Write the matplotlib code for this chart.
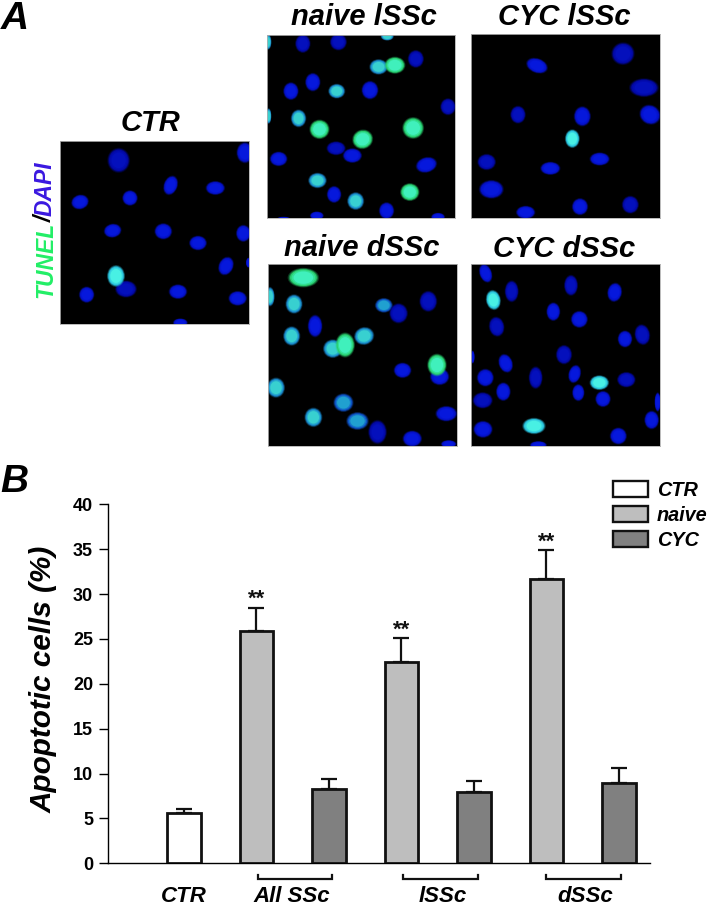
import matplotlib
matplotlib.use("Agg")
import matplotlib.pyplot as plt
from matplotlib.colors import to_rgb
from matplotlib.patches import Ellipse, Patch

plt.rcParams['font.family'] = ['Liberation Sans', 'DejaVu Sans']

# bar chart values
bar_labels = ['CTR', 'naive', 'CYC', 'naive', 'CYC', 'naive', 'CYC']
bar_values = [5.6, 25.9, 8.3, 22.4, 7.9, 31.7, 8.9]
bar_tops = [6.0, 28.5, 9.4, 25.1, 9.2, 34.9, 10.6]
bar_colors = ['white', '#bebebe', '#808080', '#bebebe', '#808080', '#bebebe', '#808080']
star_bars = [1, 3, 5]
y_ticks = [0, 5, 10, 15, 20, 25, 30, 35, 40]
group_names = ['CTR', 'All SSc', 'lSSc', 'dSSc']
legend_names = ['CTR', 'naive', 'CYC']
legend_colors = ['white', '#bebebe', '#808080']

# nuclei in the micrographs: x, y, width, height, angle, kind
# b blue, d dark blue, s speckled cyan, c bright cyan, g bright green
ctr_cells = [
    (356, 481, 58, 64, 0, 'd'), (735, 458, 44, 54, 0, 'b'), (512, 556, 36, 52, 20, 'b'),
    (646, 564, 50, 36, 0, 'b'), (240, 606, 46, 38, -15, 'b'), (390, 594, 40, 40, 0, 'b'),
    (338, 692, 46, 36, -10, 'b'), (490, 694, 46, 42, 0, 'b'), (730, 700, 38, 44, 0, 'b'),
    (594, 729, 46, 38, 0, 'b'), (678, 798, 38, 50, 25, 'b'), (745, 788, 12, 26, 0, 'b'),
    (378, 867, 56, 44, 0, 'd'), (260, 884, 40, 42, 0, 'b'), (534, 875, 48, 38, 0, 'b'),
    (713, 895, 48, 38, 0, 'b'), (541, 968, 38, 22, 0, 'b'), (348, 828, 46, 56, 0, 'c'),
]
naive_l_cells = [
    (908, 130, 40, 48, 0, 'd'), (1015, 125, 44, 44, 0, 'd'), (1248, 176, 42, 46, 0, 'd'),
    (938, 246, 40, 48, 0, 'b'), (872, 273, 40, 46, 0, 'b'), (1110, 270, 44, 48, 0, 'b'),
    (1345, 320, 40, 44, 0, 'd'), (1008, 445, 50, 36, 0, 'd'), (1057, 467, 50, 38, 0, 'b'),
    (835, 477, 46, 38, 0, 'b'), (1280, 495, 56, 40, -15, 'b'), (1002, 584, 38, 44, 0, 'b'),
    (1160, 633, 40, 44, 0, 'b'), (950, 648, 36, 22, 0, 'b'), (1315, 652, 36, 22, 0, 'b'),
    (850, 658, 36, 12, 0, 'b'), (1136, 200, 48, 40, 0, 's'), (1010, 273, 44, 38, 0, 's'),
    (895, 355, 40, 46, 0, 's'), (952, 542, 48, 40, 0, 's'), (1067, 604, 44, 46, 0, 's'),
    (1162, 108, 34, 22, 0, 's'), (803, 125, 18, 40, 0, 's'), (805, 348, 14, 40, 0, 's'),
    (1185, 195, 54, 44, 0, 'g'), (958, 388, 52, 50, 0, 'g'), (1088, 418, 54, 50, -20, 'g'),
    (1240, 384, 56, 56, 0, 'g'), (1230, 577, 50, 46, 0, 'g'),
]
cyc_l_cells = [
    (216, 198, 58, 38, 20, 'b'), (474, 162, 60, 58, -15, 'd'), (537, 264, 76, 48, 0, 'd'),
    (555, 345, 56, 50, 30, 'b'), (159, 345, 40, 46, 0, 'd'), (352, 350, 44, 52, 0, 'b'),
    (322, 417, 38, 48, 0, 'c'), (404, 478, 52, 34, 0, 'b'), (65, 487, 48, 42, 0, 'd'),
    (256, 506, 52, 34, 0, 'b'), (79, 569, 64, 48, 0, 'b'), (345, 621, 42, 44, 0, 'b'),
    (496, 615, 44, 46, 0, 'd'), (182, 638, 50, 34, 0, 'b'),
]
naive_d_cells = [
    (130, 143, 80, 50, 0, 'g'), (102, 222, 44, 50, 0, 's'), (30, 200, 24, 50, 0, 's'),
    (165, 288, 38, 58, 0, 'b'), (95, 318, 44, 50, 0, 's'), (218, 356, 50, 48, 0, 's'),
    (255, 345, 50, 64, 0, 'g'), (312, 318, 52, 46, -15, 's'), (371, 226, 46, 38, 0, 'm'),
    (415, 250, 48, 52, 0, 'd'), (504, 214, 46, 54, 0, 'd'), (427, 421, 46, 40, 0, 'b'),
    (538, 440, 50, 44, 0, 'b'), (530, 405, 50, 58, 0, 'g'), (558, 551, 56, 40, 0, 'b'),
    (456, 626, 50, 42, 0, 'b'), (565, 642, 40, 20, 0, 'b'), (48, 473, 46, 52, 0, 's'),
    (250, 518, 52, 48, 0, 'm'), (160, 562, 46, 50, 0, 's'), (292, 573, 58, 46, 0, 'm'),
    (352, 606, 48, 62, 0, 'd'),
]
cyc_d_cells = [
    (677, 130, 32, 50, -20, 'b'), (755, 184, 36, 56, 0, 'd'), (700, 210, 38, 52, -10, 'c'),
    (933, 166, 36, 54, 0, 'd'), (1064, 187, 38, 50, 10, 'b'), (880, 245, 36, 48, 0, 'b'),
    (958, 268, 44, 44, 0, 'b'), (710, 290, 40, 52, -10, 'd'), (1095, 327, 38, 44, 0, 'b'),
    (1147, 314, 40, 54, -10, 'd'), (912, 374, 42, 50, 0, 'd'), (737, 400, 36, 50, -20, 'b'),
    (638, 381, 10, 34, 0, 'b'), (676, 443, 44, 46, 0, 'b'), (827, 443, 36, 58, 0, 'd'),
    (944, 432, 32, 48, 15, 'b'), (1018, 458, 50, 38, 0, 'c'), (1099, 449, 48, 40, 0, 'd'),
    (730, 485, 38, 48, 0, 'b'), (955, 488, 32, 44, 0, 'b'), (1029, 507, 40, 42, 0, 'b'),
    (668, 511, 52, 42, 0, 'd'), (1193, 516, 16, 50, 0, 'b'), (1175, 570, 38, 48, 0, 'b'),
    (669, 598, 50, 44, 0, 'b'), (822, 588, 60, 42, 0, 'c'), (1075, 618, 44, 44, 0, 'b'),
    (835, 645, 44, 20, 0, 'b'),
]

# kind: rim colour, middle colour
cell_colors = {
    'b': ('#0410c4', '#0618dc'),
    'd': ('#0208a4', '#0410bc'),
    'm': ('#0c50c4', '#20a0d0'),
    's': ('#1888cc', '#38d0d0'),
    'c': ('#28c0dc', '#48f0e4'),
    'g': ('#28d070', '#40f0bc'),
}

W, H = 707, 907


def fx(px):
    return px / W


def fy(px):
    return 1 - px / H


def mix(c1, c2, t):
    a, b = to_rgb(c1), to_rgb(c2)
    return tuple(a[i] + (b[i] - a[i]) * t for i in range(3))


fig = plt.figure(figsize=(7.07, 9.07), dpi=100)


def draw_panel(left, top, right, bottom, xlim, ylim, cells):
    ax = fig.add_axes([fx(left), fy(bottom), (right - left) / W, (bottom - top) / H])
    ax.set_facecolor('black')
    ax.set_xlim(xlim)
    ax.set_ylim(ylim)
    ax.set_xticks([])
    ax.set_yticks([])
    for s in ax.spines.values():
        s.set_color('#b0b0b0')
        s.set_linewidth(0.6)
    for x, y, w, h, ang, kind in cells:
        rim, mid = cell_colors[kind]
        # soft edge first, then the body getting lighter towards the middle
        layers = [(1.18, rim, 0.25), (1.09, rim, 0.5), (1.0, rim, 1),
                  (0.88, mix(rim, mid, 0.5), 1), (0.74, mid, 1)]
        for scale, col, alpha in layers:
            ax.add_patch(Ellipse((x, y), w * scale, h * scale, angle=ang, color=col,
                                 alpha=alpha, lw=0))
    return ax


draw_panel(60, 141, 249, 324, (180, 747), (972, 423), ctr_cells)
draw_panel(267, 35, 455, 218, (800, 1366), (655, 104), naive_l_cells)
draw_panel(471, 34, 660, 218, (18, 585), (655, 103), cyc_l_cells)
draw_panel(268, 264, 457, 446, (24, 590), (648, 102), naive_d_cells)
draw_panel(471, 264, 660, 446, (633, 1200), (648, 102), cyc_d_cells)

title_kw = dict(fontsize=21, fontweight='bold', style='italic', ha='center', va='baseline')
fig.text(fx(150), fy(131), 'CTR', **title_kw)
fig.text(fx(364), fy(25), 'naive lSSc', **title_kw)
fig.text(fx(564), fy(25), 'CYC lSSc', **title_kw)
fig.text(fx(362), fy(256), 'naive dSSc', **title_kw)
fig.text(fx(564), fy(257), 'CYC dSSc', **title_kw)

fig.text(fx(15), fy(29), 'A', fontsize=28, fontweight='bold', style='italic', ha='center', va='baseline')
fig.text(fx(14), fy(492), 'B', fontsize=28, fontweight='bold', style='italic', ha='center', va='baseline')

# side label in three colours
side_kw = dict(fontsize=16.5, fontweight='bold', style='italic', rotation=90,
               rotation_mode='anchor', ha='left', va='baseline')
fig.text(fx(52), fy(298), 'TUNEL', color='#22ee66', **side_kw)
fig.text(fx(52), fy(222), '/', color='black', **side_kw)
fig.text(fx(52), fy(216), 'DAPI', color='#3a18e0', **side_kw)

# bar chart
ax = fig.add_axes([fx(107.7), fy(863.3), (650 - 107.7) / W, (863.3 - 504.3) / H])
pos = list(range(1, len(bar_values) + 1))
errs = [t - v for t, v in zip(bar_tops, bar_values)]
ax.bar(pos, bar_values, width=0.46, color=bar_colors, edgecolor='#111111', linewidth=2, zorder=3)
ax.errorbar(pos, bar_values, yerr=[[0] * len(errs), errs], fmt='none', ecolor='#111111',
            elinewidth=1.6, capsize=6, capthick=1.6, zorder=2)
for i in star_bars:
    ax.text(pos[i], bar_tops[i] + 0.3, '**', fontsize=16, fontweight='bold', ha='center',
            va='baseline', color='#111111')

ax.set_xlim(-0.052, 7.43)
ax.set_ylim(0, 40)
ax.set_xticks([])
ax.set_yticks(y_ticks)
ax.tick_params(axis='y', length=6.5, width=1, pad=4)
for lab in ax.get_yticklabels():
    lab.set_fontsize(13)
    lab.set_fontweight('bold')
ax.spines['top'].set_visible(False)
ax.spines['right'].set_visible(False)
ax.spines['left'].set_linewidth(1)
ax.spines['bottom'].set_linewidth(1)
ax.set_ylabel('Apoptotic cells (%)', fontsize=21.4, fontweight='bold', style='italic')
ax.yaxis.set_label_coords(-0.0916, 0.513)

# brackets under the groups
bracket_x = [(2.02, 3.04), (4.02, 5.06), (6.0, 7.03)]
for x0, x1 in bracket_x:
    ax.plot([x0, x0, x1, x1], [-1.3, -1.75, -1.75, -1.3], color='#111111', lw=1.6,
            clip_on=False, solid_joinstyle='miter')

group_x = [1.0, 2.49, 4.57, 6.53]
group_y = [-4.3, -4.35, -4.3, -4.3]
for x, y, name in zip(group_x, group_y, group_names):
    ax.text(x, y, name, fontsize=16, fontweight='bold', style='italic', ha='center', va='baseline')

handles = [Patch(facecolor=c, edgecolor='#111111', linewidth=1.7) for c in legend_colors]
leg = ax.legend(handles, legend_names, loc='upper left', bbox_to_anchor=(fx(613), fy(481)),
                bbox_transform=fig.transFigure, frameon=False, borderpad=0, borderaxespad=0,
                handlelength=1.75, handleheight=0.82, handletextpad=0.46, labelspacing=0.3,
                prop={'size': 14.3, 'weight': 'bold', 'style': 'italic'})

fig.savefig('out.png', dpi=100)
